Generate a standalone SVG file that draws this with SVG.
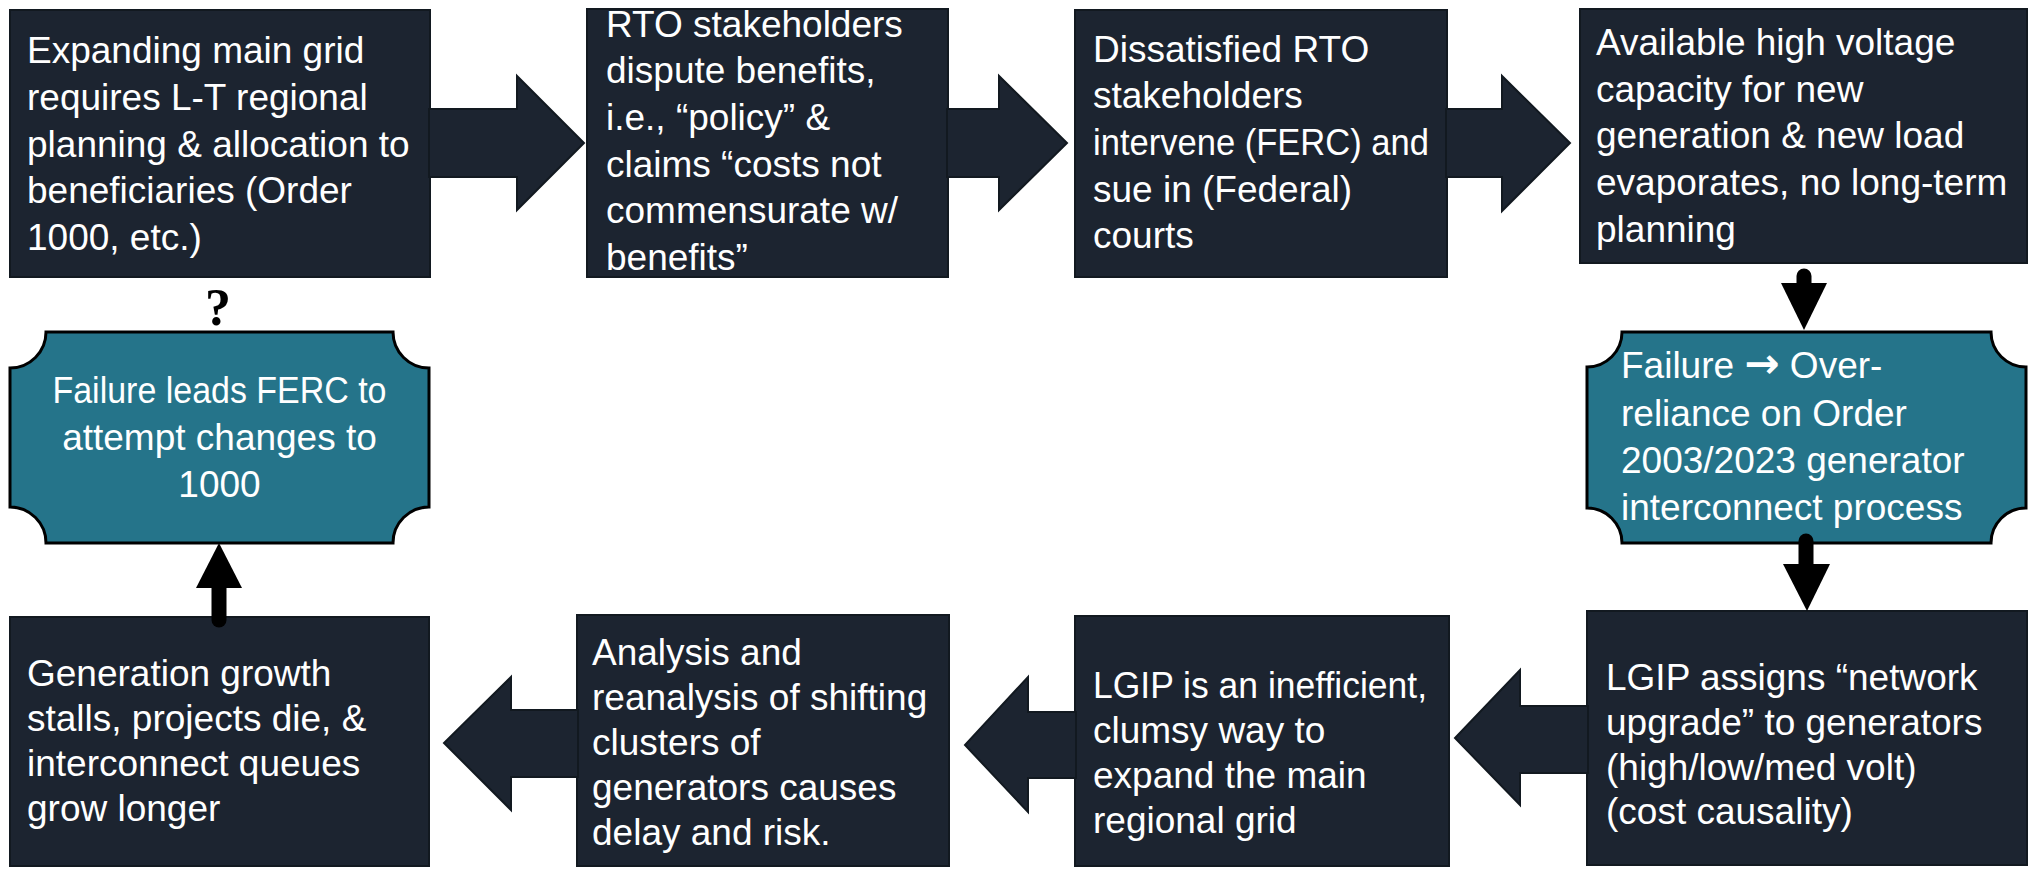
<svg xmlns="http://www.w3.org/2000/svg" width="2035" height="869" viewBox="0 0 2035 869">
  <defs>
    <style>
      .box { fill: #1c2430; stroke: #121920; stroke-width: 2; }
      .plaque { fill: #25748a; stroke: #000; stroke-width: 3; }
      .block { fill: #1c2430; stroke: #121920; stroke-width: 2; stroke-linejoin: miter; }
      .shaft { stroke: #000; stroke-width: 15; stroke-linecap: round; fill: none; }
      .head { fill: #000; }
      .t { font-family: "Liberation Sans", Arial, sans-serif; font-size: 37px; fill: #ffffff; }
      .c { text-anchor: middle; }
      .sym { font-family: "DejaVu Sans", sans-serif; font-size: 42px; font-weight: bold; }
      .q { font-family: "Liberation Serif", "Times New Roman", serif; font-size: 52px; font-weight: bold; fill: #000; text-anchor: middle; }
    </style>
  </defs>
  <rect width="2035" height="869" fill="#ffffff"/>

  <!-- Top row -->
  <g id="n1">
    <rect class="box" x="10" y="10" width="420" height="267"/>
    <text class="t">
      <tspan x="27" y="63">Expanding main grid</tspan>
      <tspan x="27" y="110">requires L-T regional</tspan>
      <tspan x="27" y="157">planning &amp; allocation to</tspan>
      <tspan x="27" y="203">beneficiaries (Order</tspan>
      <tspan x="27" y="250">1000,  etc.)</tspan>
    </text>
  </g>
  <g id="n2">
    <rect class="box" x="587" y="9" width="361" height="268"/>
    <text class="t">
      <tspan x="606" y="37">RTO stakeholders</tspan>
      <tspan x="606" y="83">dispute benefits,</tspan>
      <tspan x="606" y="130">i.e.,  “policy” &amp;</tspan>
      <tspan x="606" y="177">claims “costs not</tspan>
      <tspan x="606" y="223">commensurate w/</tspan>
      <tspan x="606" y="270">benefits”</tspan>
    </text>
  </g>
  <g id="n3">
    <rect class="box" x="1075" y="10" width="372" height="267"/>
    <text class="t" x="1093" y="62">Dissatisfied RTO</text>
    <text class="t" x="1093" y="108">stakeholders</text>
    <text class="t" x="1093" y="155" textLength="336" lengthAdjust="spacingAndGlyphs">intervene (FERC) and</text>
    <text class="t" x="1093" y="202">sue in (Federal)</text>
    <text class="t" x="1093" y="248">courts</text>
  </g>
  <g id="n4">
    <rect class="box" x="1580" y="9" width="447" height="254"/>
    <text class="t">
      <tspan x="1596" y="55">Available high voltage</tspan>
      <tspan x="1596" y="102">capacity for new</tspan>
      <tspan x="1596" y="148">generation &amp; new load</tspan>
      <tspan x="1596" y="195">evaporates, no long-term</tspan>
      <tspan x="1596" y="242">planning</tspan>
    </text>
  </g>

  <!-- Middle row: plaques -->
  <g id="n5">
    <path class="plaque" d="M1622,332 H1991 A35,35 0 0 0 2026,367 V508 A35,35 0 0 0 1991,543 H1622 A35,35 0 0 0 1587,508 V367 A35,35 0 0 0 1622,332 Z"/>
    <text class="t">
      <tspan x="1621" y="378">Failure <tspan class="sym">→</tspan> Over-</tspan>
      <tspan x="1621" y="426">reliance on Order</tspan>
      <tspan x="1621" y="473">2003/2023 generator</tspan>
      <tspan x="1621" y="520">interconnect process</tspan>
    </text>
  </g>
  <g id="n10">
    <path class="plaque" d="M46,332 H393 A36,36 0 0 0 429,368 V507 A36,36 0 0 0 393,543 H46 A36,36 0 0 0 10,507 V368 A36,36 0 0 0 46,332 Z"/>
    <text class="t c" x="219.5" y="403" textLength="334" lengthAdjust="spacingAndGlyphs">Failure leads FERC to</text>
    <text class="t c" x="219.5" y="450">attempt changes to</text>
    <text class="t c" x="219.5" y="497">1000</text>
  </g>
  <g id="n11">
    <text class="q" x="218" y="325">?</text>
  </g>

  <!-- Bottom row -->
  <g id="n6">
    <rect class="box" x="1587" y="611" width="440" height="254"/>
    <text class="t">
      <tspan x="1606" y="690">LGIP assigns “network</tspan>
      <tspan x="1606" y="735">upgrade” to generators</tspan>
      <tspan x="1606" y="780">(high/low/med volt)</tspan>
      <tspan x="1606" y="824">(cost causality)</tspan>
    </text>
  </g>
  <g id="n7">
    <rect class="box" x="1075" y="616" width="374" height="250"/>
    <text class="t" x="1093" y="698" textLength="334" lengthAdjust="spacingAndGlyphs">LGIP is an inefficient,</text>
    <text class="t">
      <tspan x="1093" y="743">clumsy way to</tspan>
      <tspan x="1093" y="788">expand the main</tspan>
      <tspan x="1093" y="833">regional grid</tspan>
    </text>
  </g>
  <g id="n8">
    <rect class="box" x="577" y="615" width="372" height="251"/>
    <text class="t">
      <tspan x="592" y="665">Analysis and</tspan>
      <tspan x="592" y="710">reanalysis of shifting</tspan>
      <tspan x="592" y="755">clusters of</tspan>
      <tspan x="592" y="800">generators causes</tspan>
      <tspan x="592" y="845">delay and risk.</tspan>
    </text>
  </g>
  <g id="n9">
    <rect class="box" x="10" y="617" width="419" height="249"/>
    <text class="t">
      <tspan x="27" y="686">Generation growth</tspan>
      <tspan x="27" y="731">stalls, projects die, &amp;</tspan>
      <tspan x="27" y="776">interconnect queues</tspan>
      <tspan x="27" y="821">grow longer</tspan>
    </text>
  </g>

  <!-- Connectors -->
  <g id="connectors">
    <!-- block arrows, top row (pointing right) -->
    <path class="block" d="M429,109 H517 V76 L584,143 L517,210 V177 H429 Z"/>
    <path class="block" d="M947,109 H999 V76 L1067,143 L999,210 V177 H947 Z"/>
    <path class="block" d="M1446,109 H1502 V76 L1570,143 L1502,211 V177 H1446 Z"/>
    <!-- block arrows, bottom row (pointing left) -->
    <path class="block" d="M1588,706 H1520 V670 L1455,738 L1520,805 V773 H1588 Z"/>
    <path class="block" d="M1076,712 H1028 V677 L965,745 L1028,812 V778 H1076 Z"/>
    <path class="block" d="M578,710 H511 V677 L444,743 L511,810 V777 H578 Z"/>
    <!-- vertical black arrows -->
    <line class="shaft" x1="1804" y1="276" x2="1804" y2="290"/>
    <polygon class="head" points="1781,283 1827,283 1804,330"/>
    <line class="shaft" x1="1806" y1="541" x2="1806" y2="570"/>
    <polygon class="head" points="1783,564 1830,564 1807,611"/>
    <line class="shaft" x1="219" y1="620" x2="219" y2="582"/>
    <polygon class="head" points="196,588 242,588 219,543"/>
  </g>
</svg>
